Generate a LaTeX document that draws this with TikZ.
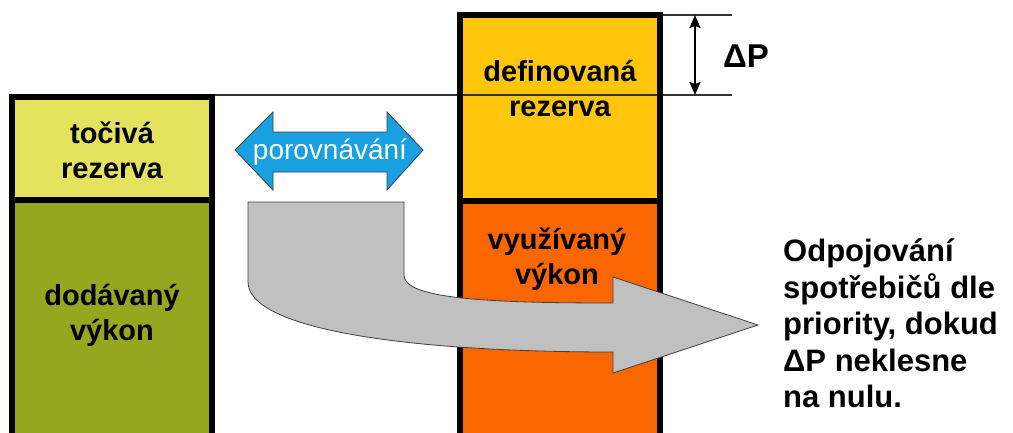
\documentclass[tikz,border=0pt]{standalone}
\usepackage{fontspec}
\setmainfont{Liberation Sans}
\usetikzlibrary{arrows.meta}

\definecolor{spinres}{RGB}{227,227,94}
\definecolor{supplied}{RGB}{151,166,31}
\definecolor{defres}{RGB}{255,198,12}
\definecolor{used}{RGB}{250,102,0}
\definecolor{cmpblue}{RGB}{25,160,225}
\definecolor{flowgray}{RGB}{192,192,192}

\begin{document}
\begin{tikzpicture}[x=1pt,y=-1pt,
  colbox/.style={draw=black, line width=6pt},
  collabel/.style={font=\fontsize{29}{35}\selectfont\bfseries, align=center, inner sep=0pt},
  sidelabel/.style={font=\fontsize{31}{36.5}\selectfont\bfseries, align=left, inner sep=0pt},
  guide/.style={line width=1.3pt, draw=black!80},
  outlined/.style={draw=black!75, line width=0.8pt}]
\useasboundingbox (0,0) rectangle (1013,432);
\clip (0,0) rectangle (1013,432);

% column fills
\fill[spinres]  (12,97)  rectangle (212,200);
\fill[supplied] (12,200) rectangle (212,445);
\fill[defres]   (460,15) rectangle (660,201);
\fill[used]     (460,201) rectangle (660,445);

% reference levels and the reserve difference
\coordinate (lvltop) at (695,15);
\coordinate (lvlbot) at (695,95);
\draw[guide] (660,15) -- (732,15);
\draw[guide] (212,95) -- (732,95);
\draw[line width=1.8pt, {Stealth[length=13pt,width=11pt,inset=2pt]}-{Stealth[length=13pt,width=11pt,inset=2pt]}]
  (lvltop) -- (lvlbot);

% column borders
\draw[colbox] (12,97) rectangle (212,445);
\draw[colbox] (12,200) -- (212,200);
\draw[colbox] (460,15) rectangle (660,445);
\draw[colbox] (460,201) -- (660,201);

% comparison arrow
\draw[outlined, fill=cmpblue]
  (235,150) -- (273,112) -- (273,132) -- (387,132) -- (387,112) -- (423,150)
  -- (387,190) -- (387,172) -- (273,172) -- (273,190) -- cycle;
\node[anchor=base, inner sep=0pt, text=white, font=\fontsize{28}{32}\selectfont]
  (cmp) at (330,159) {porovnávání};

% bent flow arrow
\draw[outlined, fill=flowgray]
  (248,202) -- (404,202) -- (404,275)
  .. controls (404,298) and (480,303) .. (613,303)
  -- (613,277) -- (758,325) -- (613,373) -- (613,352)
  .. controls (400,352) and (248,328) .. (248,282) -- cycle;

% labels
\node[collabel] (spin) at (112,150) {točivá\\rezerva};
\node[collabel] (supp) at (112,315) {dodávaný\\výkon};
\node[collabel] (dres) at (560,89) {definovaná\\rezerva};
\node[collabel] (usedl) at (557,259) {využívaný\\výkon};
\node[anchor=base west, inner sep=0pt, font=\fontsize{33}{38}\selectfont\bfseries]
  (dp) at (723,67) {ΔP};
\node[sidelabel, anchor=north west] (act) at (783,239)
  {Odpojování\\spotřebičů dle\\priority, dokud\\ΔP neklesne\\na nulu.};
\end{tikzpicture}
\end{document}
